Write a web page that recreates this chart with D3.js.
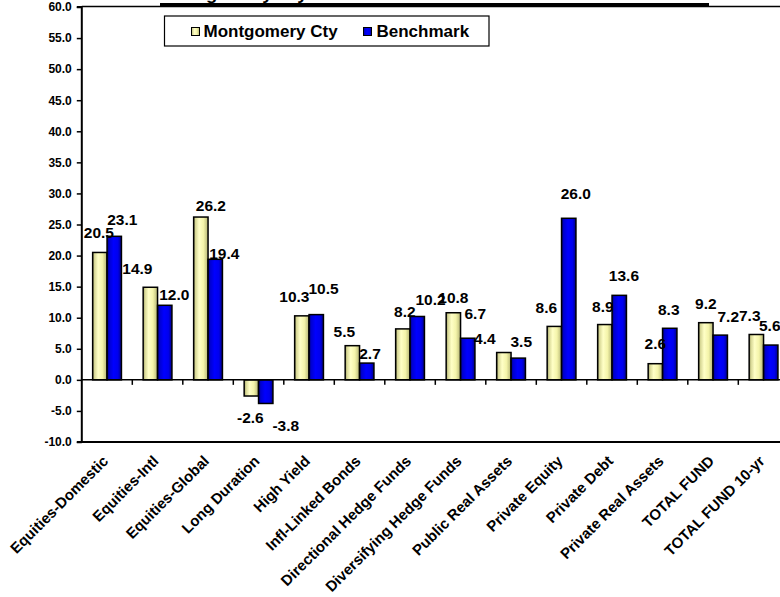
<!DOCTYPE html>
<html>
<head>
<meta charset="utf-8">
<script src="https://cdn.jsdelivr.net/npm/d3@7"></script>
<style>
  html, body { margin: 0; padding: 0; background: #fff; }
  svg { display: block; font-family: Arial, "Liberation Sans", sans-serif; }
</style>
</head>
<body>
<svg id="chart" width="780" height="597"></svg>
<script>
// ---- data ----
const categories = ["Equities-Domestic", "Equities-Intl", "Equities-Global", "Long Duration", "High Yield",
  "Infl-Linked Bonds", "Directional Hedge Funds", "Diversifying Hedge Funds", "Public Real Assets",
  "Private Equity", "Private Debt", "Private Real Assets", "TOTAL FUND", "TOTAL FUND 10-yr"];
const seriesNames = ["Montgomery Cty", "Benchmark"];
const montgomery = [20.5, 14.9, 26.2, -2.6, 10.3, 5.5, 8.2, 10.8, 4.4, 8.6, 8.9, 2.6, 9.2, 7.3];
const benchmark  = [23.1, 12.0, 19.4, -3.8, 10.5, 2.7, 10.2, 6.7, 3.5, 26.0, 13.6, 8.3, 7.2, 5.6];
const yTicks = [-10, -5, 0, 5, 10, 15, 20, 25, 30, 35, 40, 45, 50, 55, 60];
const titleText = "Montgomery Cty / Benchmark Asset Class Returns – One Year";

// label nudges (manual placement as in the original), [dx, dy] from bar end
const nudgeA = [[-1,-20],[-13,-18.5],[10,-12],[-1,21.6],[-7.5,-19.3],[-8,-14],[2,-17.3],[0,-15.6],[-19,-13.7],[-8,-19.3],[-2,-18],[0,-20],[0,-19.5],[-6.6,-19]];
const nudgeB = [[8,-16.5],[9.6,-10.5],[9,-6],[20,22],[7.3,-26.5],[3.3,-10],[13.3,-16.7],[7.5,-25],[3,-16.7],[7,-25],[4.7,-19.5],[-1,-19],[8,-19],[-1,-20]];

// ---- layout ----
const svg = d3.select("#chart");
const plot = { left: 81.8, right: 788.8, top: 7, bottom: 442 };
const fmt = v => d3.format(".1f")(v).replace("\u2212", "-");

const defs = svg.append("defs");
function grad(id, stops) {
  const g = defs.append("linearGradient").attr("id", id).attr("x1", "0%").attr("x2", "100%").attr("y1", "0%").attr("y2", "0%");
  stops.forEach(s => g.append("stop").attr("offset", s[0]).attr("stop-color", s[1]));
}
grad("gY", [["0%", "#8a8a58"], ["12%", "#d6d694"], ["38%", "#ffffc6"], ["68%", "#f4f4aa"], ["100%", "#b4b474"]]);
grad("gB", [["0%", "#000078"], ["15%", "#0000d0"], ["45%", "#0000ff"], ["75%", "#0000ee"], ["100%", "#000088"]]);
const fills = ["url(#gY)", "url(#gB)"];

const y = d3.scaleLinear().domain([-10, 60]).range([plot.bottom, plot.top]);
const x0 = d3.scaleBand().domain(categories).range([plot.left, plot.right]).padding(0);
const step = x0.bandwidth();
const x1 = d3.scaleBand().domain(seriesNames).range([step * 0.215, step * 0.785]).padding(0);

// title (cropped at top, as in original)
svg.append("text")
  .attr("x", 434.5).attr("y", -0.5)
  .attr("text-anchor", "middle")
  .attr("font-size", 17).attr("font-weight", "bold")
  .attr("textLength", 545).attr("lengthAdjust", "spacingAndGlyphs")
  .text(titleText);
svg.append("line").attr("x1", 160).attr("x2", 709).attr("y1", 4.5).attr("y2", 4.5)
  .attr("stroke", "#000").attr("stroke-width", 3);

// plot frame
svg.append("line").attr("x1", plot.left).attr("x2", 780).attr("y1", plot.top - 0.5).attr("y2", plot.top - 0.5)
  .attr("stroke", "#000").attr("stroke-width", 1.5);
svg.append("line").attr("x1", plot.left).attr("x2", 780).attr("y1", plot.bottom).attr("y2", plot.bottom)
  .attr("stroke", "#000").attr("stroke-width", 2);

// y axis
const yAxis = d3.axisLeft(y).tickValues(yTicks).tickFormat(fmt).tickSize(5).tickPadding(5);
const gy = svg.append("g").attr("transform", `translate(${plot.left},0)`).call(yAxis);
gy.attr("font-family", null).attr("font-size", null);
gy.select(".domain").attr("stroke-width", 2).attr("d", `M-5,${plot.top}H0V${plot.bottom}H-5`);
gy.selectAll(".tick line").attr("stroke-width", 1.5);
gy.selectAll("text").attr("font-size", 12).attr("font-weight", "bold").attr("fill", "#000");

// bars
const groups = svg.append("g").selectAll("g").data(categories).join("g")
  .attr("transform", d => `translate(${x0(d)},0)`);
const valuesBy = [montgomery, benchmark];
seriesNames.forEach((s, si) => {
  groups.append("rect")
    .attr("x", x1(s))
    .attr("width", x1.bandwidth())
    .attr("y", (d, i) => y(Math.max(0, valuesBy[si][i])))
    .attr("height", (d, i) => Math.abs(y(valuesBy[si][i]) - y(0)))
    .attr("fill", fills[si])
    .attr("stroke", "#000").attr("stroke-width", 1.5);
});

// x axis at zero
const xAxisG = svg.append("g").attr("transform", `translate(0,${y(0)})`);
xAxisG.append("line").attr("x1", plot.left).attr("x2", 780).attr("stroke", "#000").attr("stroke-width", 1.5);
const boundaries = categories.map(c => x0(c)).slice(1);
xAxisG.selectAll(".tk").data(boundaries).join("line").attr("class", "tk")
  .attr("x1", d => d).attr("x2", d => d).attr("y1", 0).attr("y2", 5)
  .attr("stroke", "#000").attr("stroke-width", 1.5);

// category labels (rotated)
svg.append("g").selectAll("text").data(categories).join("text")
  .attr("transform", d => `translate(${x0(d) + step / 2 + 2},${plot.bottom + 20}) rotate(-45)`)
  .attr("text-anchor", "end")
  .attr("font-size", 15).attr("font-weight", "bold").attr("fill", "#000")
  .text(d => d);

// value labels
const labelG = svg.append("g");
[1, 0].forEach(si => {
  const vals = valuesBy[si];
  const nud = si === 0 ? nudgeA : nudgeB;
  labelG.selectAll(".lab" + si).data(categories).join("text").attr("class", "lab" + si)
    .attr("x", (d, i) => x0(d) + x1(seriesNames[si]) + x1.bandwidth() / 2 + nud[i][0])
    .attr("y", (d, i) => y(vals[i]) + nud[i][1] + 5.6)
    .attr("text-anchor", "middle")
    .attr("font-size", 15.5).attr("font-weight", "bold").attr("fill", "#000")
    .text((d, i) => fmt(vals[i]));
});

// legend
const lg = svg.append("g");
lg.append("rect").attr("x", 164.5).attr("y", 16).attr("width", 324.5).attr("height", 30)
  .attr("fill", "#fff").attr("stroke", "#000").attr("stroke-width", 1.2);
const legX = [191.5, 363.5];
const legTextX = [203.5, 376.5];
seriesNames.forEach((s, si) => {
  lg.append("rect").attr("x", legX[si]).attr("y", 27.5).attr("width", 8).attr("height", 8)
    .attr("fill", fills[si]).attr("stroke", "#000").attr("stroke-width", 1);
  lg.append("text").attr("x", legTextX[si]).attr("y", 37)
    .attr("font-size", 17).attr("font-weight", "bold").attr("fill", "#000").text(s);
});
</script>
</body>
</html>
